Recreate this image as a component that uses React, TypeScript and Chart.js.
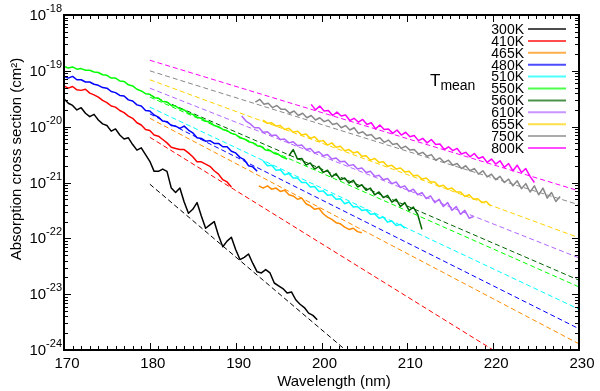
import { useEffect, useRef } from "react";
import { Chart, registerables } from "chart.js";

Chart.register(...registerables);

const FONT = '"Liberation Sans", Arial, sans-serif';

// ---- data (log10 of absorption cross section, cm^2), sampled every STEP nm ----
const STEP = 0.5;
const temperatureLabels = ["300K", "410K", "465K", "480K", "510K", "550K", "560K", "610K", "655K", "750K", "800K"];
const seriesColors = ["#000000", "#ff0000", "#ff8c00", "#0000ff", "#00ffff", "#00ff00", "#006400", "#b266ff", "#ffd200", "#888888", "#ff00ff"];

const start300 = 170;
const logSigma300 = [-19.50, -19.58, -19.62, -19.70, -19.66, -19.76, -19.82, -19.78, -19.88, -19.95, -19.98, -20.08, -20.04, -20.15, -20.22, -20.20, -20.32, -20.42, -20.38, -20.50, -20.62, -20.80, -20.80, -20.76, -20.80, -21.10, -21.18, -21.10, -21.35, -21.55, -21.48, -21.36, -21.60, -21.82, -21.76, -21.70, -21.95, -22.15, -22.05, -21.98, -22.20, -22.38, -22.34, -22.28, -22.45, -22.60, -22.62, -22.56, -22.62, -22.80, -22.85, -22.90, -22.98, -22.96, -23.10, -23.18, -23.24, -23.34, -23.38, -23.46];

const start410 = 170;
const logSigma410 = [-19.27, -19.31, -19.28, -19.34, -19.35, -19.33, -19.40, -19.43, -19.47, -19.53, -19.57, -19.63, -19.65, -19.71, -19.75, -19.81, -19.85, -19.93, -19.97, -20.05, -20.07, -20.15, -20.17, -20.23, -20.29, -20.37, -20.39, -20.41, -20.41, -20.47, -20.54, -20.63, -20.63, -20.67, -20.71, -20.79, -20.85, -20.95, -20.99, -21.08];

const start465 = 192.7;
const logSigma465 = [-21.06, -21.10, -21.06, -21.12, -21.10, -21.16, -21.14, -21.22, -21.24, -21.30, -21.28, -21.38, -21.42, -21.48, -21.46, -21.56, -21.62, -21.66, -21.72, -21.74, -21.80, -21.84, -21.82, -21.88, -21.90];

const start480 = 170;
const logSigma480 = [-19.10, -19.13, -19.10, -19.16, -19.16, -19.20, -19.20, -19.24, -19.26, -19.30, -19.31, -19.37, -19.39, -19.44, -19.45, -19.52, -19.54, -19.61, -19.63, -19.71, -19.72, -19.79, -19.83, -19.90, -19.91, -19.98, -19.99, -20.03, -19.99, -20.06, -20.11, -20.20, -20.21, -20.26, -20.25, -20.30, -20.30, -20.36, -20.36, -20.44, -20.47, -20.55, -20.59, -20.70, -20.72, -20.80];

const start510 = 193.2;
const logSigma510 = [-20.61, -20.70, -20.69, -20.78, -20.77, -20.86, -20.84, -20.92, -20.92, -21.00, -21.00, -21.08, -21.07, -21.16, -21.15, -21.23, -21.22, -21.30, -21.29, -21.38, -21.35, -21.44, -21.43, -21.50, -21.49, -21.57, -21.56, -21.64, -21.62, -21.71, -21.69, -21.77, -21.75, -21.82];

const start550 = 170;
const logSigma550 = [-18.92, -18.95, -18.93, -18.97, -18.96, -18.99, -18.99, -19.02, -19.03, -19.07, -19.08, -19.13, -19.13, -19.18, -19.19, -19.25, -19.27, -19.33, -19.36, -19.41, -19.42, -19.48, -19.49, -19.55, -19.56, -19.62, -19.63, -19.68, -19.70, -19.76, -19.78, -19.83, -19.85, -19.90, -19.92, -19.98, -20.00, -20.05, -20.07, -20.12, -20.14, -20.20, -20.22, -20.27, -20.29, -20.34, -20.36, -20.42, -20.43, -20.48, -20.50, -20.55, -20.58];

const start560 = 196.2;
const logSigma560 = [-20.52, -20.41, -20.58, -20.57, -20.69, -20.65, -20.76, -20.71, -20.82, -20.78, -20.90, -20.84, -20.95, -20.92, -21.01, -20.96, -21.08, -21.04, -21.14, -21.10, -21.22, -21.17, -21.27, -21.23, -21.35, -21.30, -21.43, -21.36, -21.50, -21.44, -21.57, -21.84];

const start610 = 190.7;
const logSigma610 = [-19.81, -19.90, -19.95, -20.02, -20.02, -20.10, -20.09, -20.16, -20.15, -20.23, -20.22, -20.29, -20.27, -20.34, -20.33, -20.41, -20.39, -20.47, -20.45, -20.52, -20.50, -20.58, -20.56, -20.63, -20.62, -20.70, -20.68, -20.76, -20.74, -20.82, -20.80, -20.89, -20.87, -20.95, -20.93, -21.02, -20.99, -21.09, -21.06, -21.16, -21.12, -21.22, -21.18, -21.29, -21.24, -21.36, -21.30, -21.43, -21.36, -21.50, -21.43, -21.57, -21.50, -21.64, -21.61];

const start655 = 193.2;
const logSigma655 = [-19.88, -19.94, -19.93, -19.99, -19.98, -20.05, -20.03, -20.10, -20.08, -20.15, -20.13, -20.21, -20.18, -20.26, -20.25, -20.33, -20.29, -20.37, -20.35, -20.43, -20.41, -20.47, -20.45, -20.53, -20.52, -20.60, -20.57, -20.64, -20.63, -20.71, -20.69, -20.76, -20.74, -20.81, -20.80, -20.88, -20.87, -20.94, -20.92, -20.99, -20.99, -21.07, -21.05, -21.12, -21.10, -21.17, -21.17, -21.25, -21.22, -21.30, -21.29, -21.36, -21.34, -21.42];

const start750 = 192.3;
const logSigma750 = [-19.56, -19.51, -19.60, -19.58, -19.66, -19.62, -19.69, -19.69, -19.76, -19.72, -19.80, -19.76, -19.84, -19.80, -19.88, -19.84, -19.91, -19.88, -19.96, -19.94, -20.02, -19.98, -20.06, -20.02, -20.12, -20.09, -20.16, -20.14, -20.22, -20.20, -20.28, -20.24, -20.32, -20.30, -20.39, -20.35, -20.42, -20.41, -20.49, -20.46, -20.53, -20.50, -20.60, -20.56, -20.64, -20.60, -20.69, -20.66, -20.75, -20.70, -20.79, -20.75, -20.85, -20.79, -20.90, -20.85, -20.95, -20.89, -21.00, -20.94, -21.06, -20.97, -21.11, -21.02, -21.17, -21.06, -21.22, -21.10, -21.28, -21.18, -21.34, -21.25];

const start800 = 198.8;
const logSigma800 = [-19.60, -19.70, -19.63, -19.72, -19.71, -19.80, -19.74, -19.81, -19.79, -19.89, -19.85, -19.92, -19.87, -19.96, -19.93, -20.04, -19.97, -20.05, -20.04, -20.12, -20.06, -20.15, -20.10, -20.18, -20.16, -20.25, -20.21, -20.29, -20.23, -20.32, -20.31, -20.41, -20.36, -20.43, -20.39, -20.49, -20.46, -20.54, -20.48, -20.57, -20.54, -20.64, -20.58, -20.67, -20.61, -20.73, -20.66, -20.79, -20.69, -20.82, -20.75, -20.89, -21.00];

const measuredStarts = [start300, start410, start465, start480, start510, start550, start560, start610, start655, start750, start800];
const measuredLogs = [logSigma300, logSigma410, logSigma465, logSigma480, logSigma510, logSigma550, logSigma560, logSigma610, logSigma655, logSigma750, logSigma800];

// straight-line fits (dashed): end points [wavelength], [log10 sigma]
const fitWavelengths = [[180, 202.8], [180, 220], [180, 230], [180, 230], [180, 230], [180, 230], [180, 230], [180, 230], [180, 230], [180, 230], [180, 230]];
const fitLogs = [[-21.03, -24.0], [-20.19, -24.0], [-19.85, -23.89], [-19.77, -23.62], [-19.65, -23.27], [-19.47, -22.87], [-19.43, -22.75], [-19.31, -22.35], [-19.16, -21.99], [-19.00, -21.40], [-18.81, -21.15]];

const xTickValues = [170, 180, 190, 200, 210, 220, 230];
const yTickExponents = [-24, -23, -22, -21, -20, -19, -18];

const decorPlugin = {
  id: "decor",
  afterDatasetsDraw(chart: any) {
    const { ctx, chartArea: a } = chart;
    const xs = chart.scales.x;
    const ys = chart.scales.y;
    ctx.save();
    ctx.strokeStyle = "#000";
    ctx.lineWidth = 1;
    ctx.beginPath();
    for (let v = 170; v <= 230; v += 1) {
      const px = Math.round(xs.getPixelForValue(v)) + 0.5;
      const len = v % 10 === 0 ? 7 : 4;
      ctx.moveTo(px, a.bottom);
      ctx.lineTo(px, a.bottom - len);
      ctx.moveTo(px, a.top);
      ctx.lineTo(px, a.top + len);
    }
    for (let e = -24; e <= -18; e++) {
      for (let m = 1; m <= 9; m++) {
        if (e === -18 && m > 1) break;
        const py = Math.round(ys.getPixelForValue(m * Math.pow(10, e))) + 0.5;
        const len = m === 1 ? 7 : 4;
        ctx.moveTo(a.left, py);
        ctx.lineTo(a.left + len, py);
        ctx.moveTo(a.right, py);
        ctx.lineTo(a.right - len, py);
      }
    }
    ctx.stroke();
    ctx.lineWidth = 2;
    ctx.strokeRect(a.left, a.top, a.right - a.left, a.bottom - a.top);

    ctx.fillStyle = "#000";
    ctx.font = `15px ${FONT}`;
    ctx.textAlign = "center";
    ctx.textBaseline = "top";
    xTickValues.forEach((v) => {
      ctx.fillText(String(v), xs.getPixelForValue(v) + 3, a.bottom + 6);
    });
    yTickExponents.forEach((e) => {
      const py = ys.getPixelForValue(Math.pow(10, e));
      const sup = String(e);
      ctx.font = `11px ${FONT}`;
      const ws = ctx.measureText(sup).width;
      const right = a.left - 2;
      ctx.textAlign = "left";
      ctx.textBaseline = "alphabetic";
      ctx.fillText(sup, right - ws, py - 3);
      ctx.font = `15px ${FONT}`;
      ctx.textAlign = "right";
      ctx.textBaseline = "middle";
      ctx.fillText("10", right - ws, py + 1);
    });
    ctx.font = `15px ${FONT}`;
    ctx.textAlign = "center";
    ctx.textBaseline = "alphabetic";
    ctx.fillText("Wavelength (nm)", 334, 386);
    ctx.save();
    ctx.translate(21, 159);
    ctx.rotate(-Math.PI / 2);
    ctx.fillText("Absorption cross section (cm²)", 0, 0);
    ctx.restore();

    temperatureLabels.forEach((lab, i) => {
      const ly = 29 + i * 11.9;
      ctx.font = `14px ${FONT}`;
      ctx.textAlign = "right";
      ctx.textBaseline = "middle";
      ctx.fillStyle = "#000";
      ctx.fillText(lab, 524, ly + 1);
      ctx.strokeStyle = seriesColors[i];
      ctx.lineWidth = 2;
      ctx.globalAlpha = 0.7;
      ctx.beginPath();
      ctx.moveTo(528, ly);
      ctx.lineTo(566, ly);
      ctx.stroke();
      ctx.globalAlpha = 1;
    });
    ctx.fillStyle = "#000";
    ctx.textAlign = "left";
    ctx.textBaseline = "alphabetic";
    ctx.font = `17px ${FONT}`;
    ctx.fillText("T", 430, 86);
    const wt = ctx.measureText("T").width;
    ctx.font = `14px ${FONT}`;
    ctx.fillText("mean", 430 + wt, 90);
    ctx.restore();
  },
};

export default function App() {
  const ref = useRef<HTMLCanvasElement | null>(null);
  useEffect(() => {
    document.body.style.margin = "0";
    const canvas = ref.current;
    if (!canvas) return;
    const datasets: any[] = [];
    temperatureLabels.forEach((lab, i) => {
      datasets.push({
        label: lab,
        data: measuredLogs[i].map((v, k) => ({ x: measuredStarts[i] + k * STEP, y: Math.pow(10, v) })),
        borderColor: seriesColors[i],
        borderWidth: 1.5,
        borderJoinStyle: "round",
        pointRadius: 0,
        tension: 0,
        fill: false,
      });
      datasets.push({
        label: lab + " fit",
        data: fitWavelengths[i].map((w, k) => ({ x: w, y: Math.pow(10, fitLogs[i][k]) })),
        borderColor: seriesColors[i],
        borderWidth: 1,
        borderDash: [5, 3],
        pointRadius: 0,
        tension: 0,
        fill: false,
      });
    });
    const chart = new Chart(canvas, {
      type: "line",
      data: { datasets },
      options: {
        animation: false,
        responsive: false,
        maintainAspectRatio: false,
        layout: { padding: { left: 64, right: 21, top: 15, bottom: 41 } },
        plugins: { legend: { display: false }, tooltip: { enabled: false } },
        scales: {
          x: {
            type: "linear",
            min: 170,
            max: 230,
            grid: { display: false, drawTicks: false },
            ticks: { display: false },
            border: { display: false },
          },
          y: {
            type: "logarithmic",
            min: 1e-24,
            max: 1e-18,
            grid: { display: false, drawTicks: false },
            ticks: { display: false },
            border: { display: false },
          },
        },
      },
      plugins: [decorPlugin],
    } as any);
    return () => chart.destroy();
  }, []);
  return (
    <div style={{ position: "absolute", left: 0, top: 0, width: 600, height: 391, background: "#fff" }}>
      <canvas ref={ref} width={600} height={391} style={{ width: 600, height: 391, display: "block" }} />
    </div>
  );
}
